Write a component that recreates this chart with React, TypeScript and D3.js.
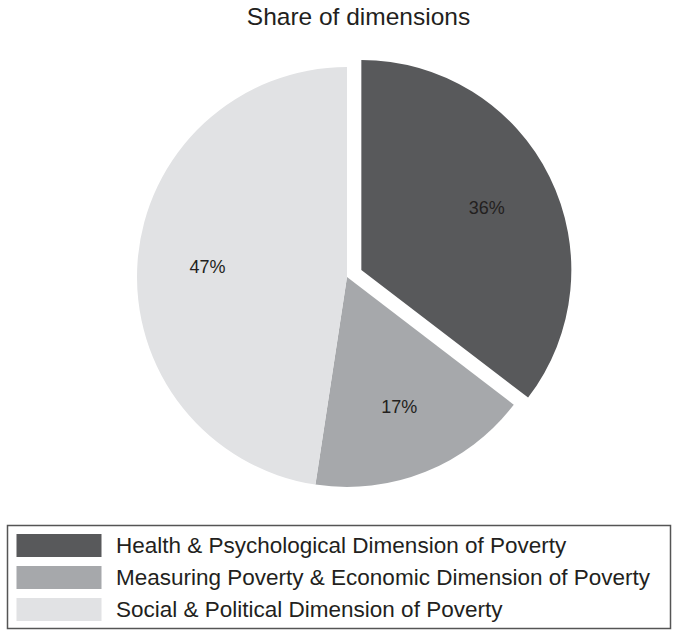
import React from "react";
import * as d3 from "d3";

const categories = [
  "Health & Psychological Dimension of Poverty",
  "Measuring Poverty & Economic Dimension of Poverty",
  "Social & Political Dimension of Poverty",
];
// slice sizes
const values = [35.4, 17.0, 47.6];
// printed labels
const labels = ["36%", "17%", "47%"];
const colors = ["#58595b", "#a6a8ab", "#e1e2e4"];
const explode = [16, 0, 0];
const title = "Share of dimensions";

export default function App() {
  const W = 678, H = 631;
  const cx = 347, cy = 277, r = 210;
  const pie = d3.pie<number>().sort(null).value((d) => d);
  const arcs = pie(values);
  const arc = d3.arc<d3.PieArcDatum<number>>().innerRadius(0).outerRadius(r);
  const labelArc = d3.arc<d3.PieArcDatum<number>>().innerRadius(140).outerRadius(140);
  const font = "'Liberation Sans', Arial, Helvetica, sans-serif";
  return (
    <svg width={W} height={H} style={{ position: "absolute", left: 0, top: 0 }} fontFamily={font}>
      <rect width={W} height={H} fill="#fff" />
      <text x={358.5} y={25} textAnchor="middle" fontSize={24.5} fill="#231f20">{title}</text>
      <g transform={`translate(${cx},${cy})`}>
        {arcs.map((a, i) => {
          const mid = (a.startAngle + a.endAngle) / 2;
          const dx = Math.sin(mid) * explode[i];
          const dy = -Math.cos(mid) * explode[i];
          const [lx, ly] = labelArc.centroid(a);
          return (
            <g key={i} transform={`translate(${dx},${dy})`}>
              <path d={arc(a) || ""} fill={colors[i]} />
              <text x={lx} y={ly} dy="0.35em" textAnchor="middle" fontSize={18} fill="#231f20">
                {labels[i]}
              </text>
            </g>
          );
        })}
      </g>
      <rect x={7.5} y={525.5} width={663} height={103} fill="none" stroke="#555" strokeWidth={1.5} />
      {categories.map((c, i) => (
        <g key={c} transform={`translate(0,${534 + i * 32})`}>
          <rect x={16.5} y={0} width={85} height={23} fill={colors[i]} />
          <text x={116} y={19} fontSize={22.5} fill="#231f20">{c}</text>
        </g>
      ))}
    </svg>
  );
}
